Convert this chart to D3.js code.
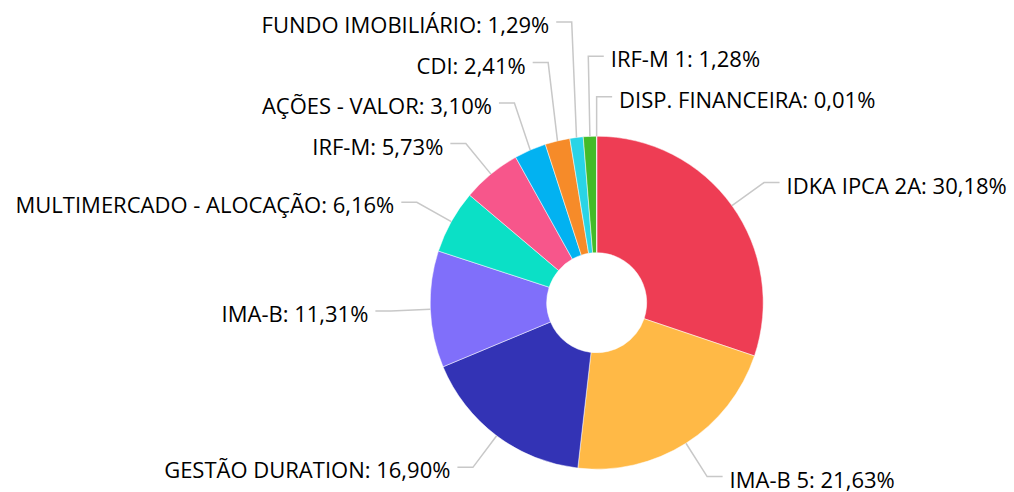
<!DOCTYPE html>
<html>
<head>
<meta charset="utf-8">
<script src="https://cdn.jsdelivr.net/npm/d3@7"></script>
<style>
  html, body { margin: 0; padding: 0; background: #fff; }
  #grafico text { font-family: "Open Sans", sans-serif; font-size: 22px; fill: #000; }
</style>
</head>
<body>
<div id="grafico"></div>
<script>
const width = 1014;
const height = 492;

// dados da carteira
const categorias = ["IDKA IPCA 2A", "IMA-B 5", "GESTÃO DURATION", "IMA-B", "MULTIMERCADO - ALOCAÇÃO",
    "IRF-M", "AÇÕES - VALOR", "CDI", "FUNDO IMOBILIÁRIO", "IRF-M 1", "DISP. FINANCEIRA"];
const valores = [30.18, 21.63, 16.90, 11.31, 6.16, 5.73, 3.10, 2.41, 1.29, 1.28, 0.01];
const cores = ["#ee3d54", "#ffb946", "#3333b5", "#806ffa", "#0be0c6",
    "#f7568b", "#02b2f1", "#f68b29", "#29d4e6", "#44bb28", "#a367dc"];

const cx = 596.7, cy = 302.7;
const raio = 166.5, raioInterno = 50;
const raioLabel = 206;     // onde a linha dobra
const espacamento = 40.5;  // distância mínima entre rótulos
const trecho = 15.5;       // trecho horizontal da linha

const svg = d3.select("#grafico")
    .append("svg")
    .attr("width", width)
    .attr("height", height);

const dados = categorias.map((c, i) => ({ nome: c, valor: valores[i], cor: cores[i] }));

const pie = d3.pie().value(d => d.valor).sort(null);
const arcos = pie(dados);

const arc = d3.arc().innerRadius(raioInterno).outerRadius(raio);

const g = svg.append("g").attr("transform", `translate(${cx},${cy})`);

g.selectAll("path.fatia")
    .data(arcos)
    .join("path")
    .attr("class", "fatia")
    .attr("d", arc)
    .attr("fill", d => d.data.cor)
    .attr("stroke", "#fff")
    .attr("stroke-width", 0.5);

// posição dos rótulos
const fmt = v => v.toFixed(2).replace(".", ",") + "%";
const labels = arcos.map(d => {
    const a = (d.startAngle + d.endAngle) / 2;
    const graus = a * 180 / Math.PI;
    const lado = (graus < 180 || graus > 357) ? 1 : -1;
    return {
        d, a, lado,
        ordem: graus > 180 ? graus - 360 : graus,
        x0: Math.sin(a) * raio, y0: -Math.cos(a) * raio,
        x1: Math.sin(a) * raioLabel, y: -Math.cos(a) * raioLabel,
        texto: `${d.data.nome}: ${fmt(d.data.valor)}`
    };
});

// evita sobreposição: empurra para cima de baixo para cima
[1, -1].forEach(lado => {
    const grupo = labels.filter(l => l.lado === lado)
        .sort((a, b) => lado === 1 ? a.ordem - b.ordem : b.ordem - a.ordem);
    for (let i = grupo.length - 2; i >= 0; i--) {
        grupo[i].y = Math.min(grupo[i].y, grupo[i + 1].y - espacamento);
    }
});

const linha = d3.line();

g.selectAll("path.tick")
    .data(labels)
    .join("path")
    .attr("class", "tick")
    .attr("fill", "none")
    .attr("stroke", "#c8c8c8")
    .attr("stroke-width", 1.5)
    .attr("d", l => linha([[l.x0, l.y0], [l.x1, l.y], [l.x1 + l.lado * trecho, l.y]]));

g.selectAll("text.rotulo")
    .data(labels)
    .join("text")
    .attr("class", "rotulo")
    .attr("x", l => l.x1 + l.lado * (trecho + 7))
    .attr("y", l => l.y)
    .attr("dy", "0.5em")
    .attr("text-anchor", l => l.lado === 1 ? "start" : "end")
    .text(l => l.texto);
</script>
</body>
</html>
